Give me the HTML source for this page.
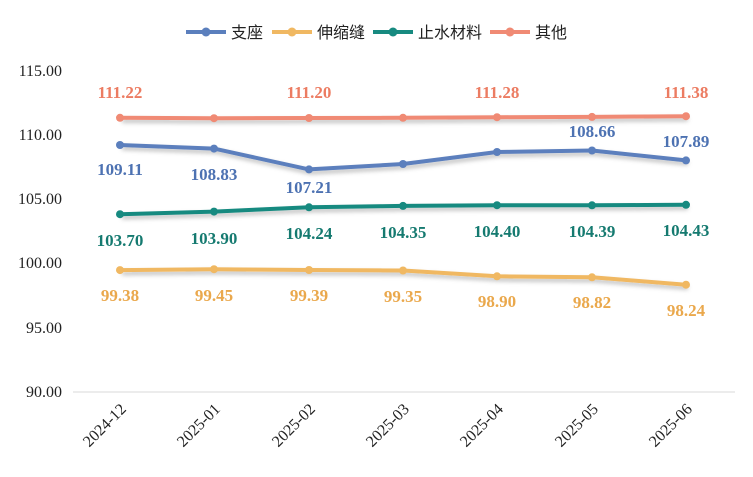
<!DOCTYPE html><html><head><meta charset="utf-8"><style>body{margin:0;background:#fff}.s{font-family:"Liberation Serif","Noto Serif CJK SC",serif}.l{font-family:"Liberation Sans","Noto Sans CJK SC",sans-serif}</style></head><body>
<svg width="753" height="472" xmlns="http://www.w3.org/2000/svg" class="s">
<defs><filter id="sh" x="-10%" y="-50%" width="120%" height="200%"><feDropShadow dx="2" dy="3" stdDeviation="2" flood-color="#000" flood-opacity="0.25"/></filter></defs>
<g class="l" font-size="16" fill="#222">
<line x1="186" y1="32" x2="226" y2="32" stroke="#5b7fbd" stroke-width="4"/><circle cx="206" cy="32" r="4.5" fill="#5b7fbd"/><text x="231" y="38">支座</text>
<line x1="272" y1="32" x2="312" y2="32" stroke="#f0b862" stroke-width="4"/><circle cx="292" cy="32" r="4.5" fill="#f0b862"/><text x="317" y="38">伸缩缝</text>
<line x1="373" y1="32" x2="413" y2="32" stroke="#178a80" stroke-width="4"/><circle cx="393" cy="32" r="4.5" fill="#178a80"/><text x="418" y="38">止水材料</text>
<line x1="490" y1="32" x2="530" y2="32" stroke="#f08a74" stroke-width="4"/><circle cx="510" cy="32" r="4.5" fill="#f08a74"/><text x="535" y="38">其他</text>
</g>
<g class="s" font-size="16" fill="#222" text-anchor="end">
<text x="62" y="76">115.00</text><text x="62" y="140">110.00</text><text x="62" y="204">105.00</text><text x="62" y="268">100.00</text><text x="62" y="333">95.00</text><text x="62" y="397">90.00</text>
</g>
<line x1="73" y1="392" x2="735" y2="392" stroke="#d9d9d9" stroke-width="1"/>
<g class="s" font-size="16" fill="#222" text-anchor="end">
<text transform="translate(127,410) rotate(-45)">2024-12</text>
<text transform="translate(221,410) rotate(-45)">2025-01</text>
<text transform="translate(316,410) rotate(-45)">2025-02</text>
<text transform="translate(410,410) rotate(-45)">2025-03</text>
<text transform="translate(504,410) rotate(-45)">2025-04</text>
<text transform="translate(599,410) rotate(-45)">2025-05</text>
<text transform="translate(693,410) rotate(-45)">2025-06</text>
</g>
<g fill="none" stroke-width="4" stroke-linejoin="round" filter="url(#sh)">
<polyline stroke="#f08a74" points="120,117.8 214,118.2 309,118.0 403,117.8 497,117.2 592,116.9 686,116.2"/>
<polyline stroke="#5b7fbd" points="120,145 214,148.6 309,169.4 403,164 497,152 592,150.5 686,160.4"/>
<polyline stroke="#178a80" points="120,214.2 214,211.6 309,207.3 403,205.9 497,205.2 592,205.3 686,204.8"/>
<polyline stroke="#f0b862" points="120,270.1 214,269.2 309,270.0 403,270.5 497,276.3 592,277.3 686,284.7"/>
</g>
<g fill="#f08a74"><circle cx="120" cy="117.8" r="4"/><circle cx="214" cy="118.2" r="4"/><circle cx="309" cy="118" r="4"/><circle cx="403" cy="117.8" r="4"/><circle cx="497" cy="117.2" r="4"/><circle cx="592" cy="116.9" r="4"/><circle cx="686" cy="116.2" r="4"/></g>
<g fill="#5b7fbd"><circle cx="120" cy="145" r="4"/><circle cx="214" cy="148.6" r="4"/><circle cx="309" cy="169.4" r="4"/><circle cx="403" cy="164" r="4"/><circle cx="497" cy="152" r="4"/><circle cx="592" cy="150.5" r="4"/><circle cx="686" cy="160.4" r="4"/></g>
<g fill="#178a80"><circle cx="120" cy="214.2" r="4"/><circle cx="214" cy="211.6" r="4"/><circle cx="309" cy="207.3" r="4"/><circle cx="403" cy="205.9" r="4"/><circle cx="497" cy="205.2" r="4"/><circle cx="592" cy="205.3" r="4"/><circle cx="686" cy="204.8" r="4"/></g>
<g fill="#f0b862"><circle cx="120" cy="270.1" r="4"/><circle cx="214" cy="269.2" r="4"/><circle cx="309" cy="270" r="4"/><circle cx="403" cy="270.5" r="4"/><circle cx="497" cy="276.3" r="4"/><circle cx="592" cy="277.3" r="4"/><circle cx="686" cy="284.7" r="4"/></g>
<g class="s" font-size="17" font-weight="bold" text-anchor="middle">
<g fill="#ec7c62"><text x="120" y="98">111.22</text><text x="309" y="98">111.20</text><text x="497" y="98">111.28</text><text x="686" y="98">111.38</text></g>
<g fill="#4d72b2"><text x="120" y="175">109.11</text><text x="214" y="180">108.83</text><text x="309" y="193">107.21</text><text x="592" y="137">108.66</text><text x="686" y="147">107.89</text></g>
<g fill="#157a70"><text x="120" y="246">103.70</text><text x="214" y="244">103.90</text><text x="309" y="239">104.24</text><text x="403" y="238">104.35</text><text x="497" y="237">104.40</text><text x="592" y="237">104.39</text><text x="686" y="236">104.43</text></g>
<g fill="#eaa84c"><text x="120" y="301">99.38</text><text x="214" y="301">99.45</text><text x="309" y="301">99.39</text><text x="403" y="302">99.35</text><text x="497" y="307">98.90</text><text x="592" y="308">98.82</text><text x="686" y="316">98.24</text></g>
</g>
</svg>
</body></html>
